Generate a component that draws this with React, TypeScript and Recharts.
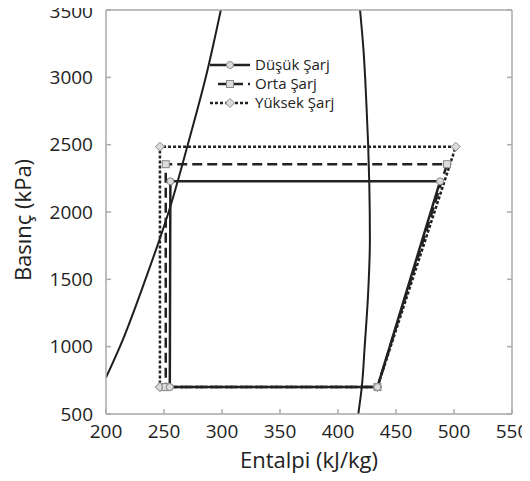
import React from "react";
import { LineChart, Line, XAxis, YAxis, Label } from "recharts";

// doyma eğrisi (sıvı ve buhar tarafı)
const liquidH = [200, 212, 234, 254, 270.5, 286, 299];
const liquidP = [770, 1000, 1500, 2000, 2500, 3000, 3500];
const vaporH = [417.5, 420.5, 423, 426, 427.5, 427, 426, 424.5, 422, 419];
const vaporP = [500, 700, 1000, 1400, 1800, 2200, 2500, 2800, 3200, 3500];

// çevrimler: evaporatör girişi -> kompresör girişi -> kompresör çıkışı -> kondenser çıkışı -> geri
const dusukH = [255, 434, 488, 255.5, 255];
const dusukP = [700, 700, 2228, 2228, 700];
const ortaH = [251.5, 434, 494, 251.5, 251.5];
const ortaP = [700, 700, 2355, 2355, 700];
const yuksekH = [246.5, 434, 501.5, 246.5, 246.5];
const yuksekP = [700, 700, 2485, 2485, 700];

const xTicks = [200, 250, 300, 350, 400, 450, 500, 550];
const yTicks = [500, 1000, 1500, 2000, 2500, 3000, 3500];

const toPoints = (h: number[], p: number[]) => h.map((v, i) => ({ h: v, p: p[i] }));

const liquid = toPoints(liquidH, liquidP);
const vapor = toPoints(vaporH, vaporP);
const dusuk = toPoints(dusukH, dusukP);
const orta = toPoints(ortaH, ortaP);
const yuksek = toPoints(yuksekH, yuksekP);

const markerFill = "#dcdcdc";
const markerStroke = "#8a8a8a";

const circleDot = (p: any) => (
    <circle key={`c${p.index}`} cx={p.cx} cy={p.cy} r={3.5} fill={markerFill} stroke={markerStroke} strokeWidth={1} />
);
const squareDot = (p: any) => (
    <rect key={`s${p.index}`} x={p.cx - 3.5} y={p.cy - 3.5} width={7} height={7} fill={markerFill} stroke={markerStroke} strokeWidth={1} />
);
const diamondDot = (p: any) => (
    <path key={`d${p.index}`} d={`M${p.cx},${p.cy - 4.5}L${p.cx + 4.5},${p.cy}L${p.cx},${p.cy + 4.5}L${p.cx - 4.5},${p.cy}Z`} fill={markerFill} stroke={markerStroke} strokeWidth={1} />
);

const legendRows = [
    { name: "Düşük Şarj", dash: undefined, x1: 0, marker: "circle" },
    { name: "Orta Şarj", dash: "10 5", x1: 8, marker: "square" },
    { name: "Yüksek Şarj", dash: "3 2", x1: 0, marker: "diamond" }
];

const ChartLegend = () => (
    <div style={{ position: "absolute", left: 210, top: 55, fontSize: 15, lineHeight: "19px", color: "#222" }}>
        {legendRows.map(r => (
            <div key={r.name} style={{ display: "flex", alignItems: "center", height: 19 }}>
                <svg width={45} height={12}>
                    <line x1={r.x1} x2={40} y1={6} y2={6} stroke="#222" strokeWidth={2.5} strokeDasharray={r.dash} />
                    {r.marker === "circle" && circleDot({ cx: 20, cy: 6, index: 0 })}
                    {r.marker === "square" && squareDot({ cx: 20, cy: 6, index: 0 })}
                    {r.marker === "diamond" && diamondDot({ cx: 20, cy: 6, index: 0 })}
                </svg>
                <span>{r.name}</span>
            </div>
        ))}
    </div>
);

export default function App() {
    const axisColor = "#aaaaaa";
    return (
        <div style={{ fontFamily: "'Open Sans', sans-serif", position: "relative", width: 530, height: 481, margin: "-8px 0 0 -8px" }}>
            <LineChart width={530} height={481} margin={{ top: 8, right: 0, bottom: 0, left: 0 }}>
                <XAxis
                    type="number"
                    dataKey="h"
                    domain={[200, 550]}
                    ticks={xTicks}
                    allowDataOverflow
                    height={67}
                    stroke={axisColor}
                    strokeWidth={1.5}
                    tickSize={-5}
                    tickMargin={16}
                    tick={{ fill: "#222", fontSize: 19 }}
                >
                    <Label value="Entalpi (kJ/kg)" position="insideBottom" offset={13} fill="#222" fontSize={22} />
                </XAxis>
                <XAxis
                    xAxisId="top"
                    orientation="top"
                    type="number"
                    domain={[200, 550]}
                    ticks={xTicks}
                    allowDataOverflow
                    height={2}
                    stroke={axisColor}
                    strokeWidth={1.5}
                    tickSize={-5}
                    tickFormatter={() => ""}
                />
                <YAxis
                    type="number"
                    dataKey="p"
                    domain={[500, 3500]}
                    ticks={yTicks}
                    allowDataOverflow
                    width={106}
                    stroke={axisColor}
                    strokeWidth={1.5}
                    tickSize={-5}
                    tickMargin={18}
                    tick={{ fill: "#222", fontSize: 19 }}
                >
                    <Label value="Basınç (kPa)" angle={-90} position="insideLeft" offset={23} dy={8} fill="#222" fontSize={22} style={{ textAnchor: "middle" }} />
                </YAxis>
                <YAxis
                    yAxisId="right"
                    orientation="right"
                    type="number"
                    domain={[500, 3500]}
                    ticks={yTicks}
                    allowDataOverflow
                    width={18}
                    stroke={axisColor}
                    strokeWidth={1.5}
                    tickSize={-5}
                    tickFormatter={() => ""}
                />
                <Line data={liquid} dataKey="p" type="monotoneY" stroke="#1e1e1e" strokeWidth={2} dot={false} isAnimationActive={false} />
                <Line data={vapor} dataKey="p" type="monotoneY" stroke="#1e1e1e" strokeWidth={2} dot={false} isAnimationActive={false} />
                <Line data={yuksek} dataKey="p" name="Yüksek Şarj" stroke="#222" strokeWidth={2.5} strokeDasharray="3 2" dot={diamondDot} isAnimationActive={false} />
                <Line data={orta} dataKey="p" name="Orta Şarj" stroke="#222" strokeWidth={2.5} strokeDasharray="10 5" dot={squareDot} isAnimationActive={false} />
                <Line data={dusuk} dataKey="p" name="Düşük Şarj" stroke="#222" strokeWidth={2.5} dot={circleDot} isAnimationActive={false} />
            </LineChart>
            <ChartLegend />
        </div>
    );
}
